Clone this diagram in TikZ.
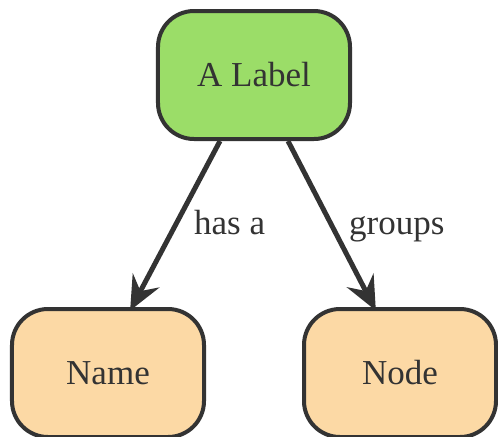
\documentclass[tikz,border=0pt]{standalone}
\usepackage{fontspec}
\setmainfont{Liberation Serif}
\usetikzlibrary{positioning, arrows.meta}

\definecolor{labelgreen}{RGB}{155,221,104}
\definecolor{nodepeach}{RGB}{252,217,165}
\definecolor{edgegray}{RGB}{51,51,51}

\begin{document}
\begin{tikzpicture}[
		every node/.style={font=\fontsize{17.5}{21}\selectfont, text=edgegray},
		graphnode/.style={draw=edgegray, line width=2pt, rounded corners=18pt, minimum width=96pt, minimum height=64pt},
		rel/.style={draw=edgegray, line width=2.5pt, -{Stealth[length=17pt, width=15pt, inset=6pt]}, shorten >=-2pt},
		rellabel/.style={midway, anchor=base west, xshift=4.5pt, yshift=-5pt},
	]
	\useasboundingbox (-127pt,37.5pt) rectangle (122pt,-180.5pt);
	\node[graphnode, fill=labelgreen] (lbl) {A Label};
	\node[graphnode, fill=nodepeach, below=83pt of lbl, xshift=-73pt] (name) {Name};
	\node[graphnode, fill=nodepeach, below=83pt of lbl, xshift=73pt] (node) {Node};
	
	\draw[rel] ([xshift=-17pt]lbl.south) -- node[rellabel] {has a} ([xshift=12pt]name.north);
	\draw[rel] ([xshift=17pt]lbl.south) -- node[rellabel] {groups} ([xshift=-13pt]node.north);
\end{tikzpicture}
\end{document}
